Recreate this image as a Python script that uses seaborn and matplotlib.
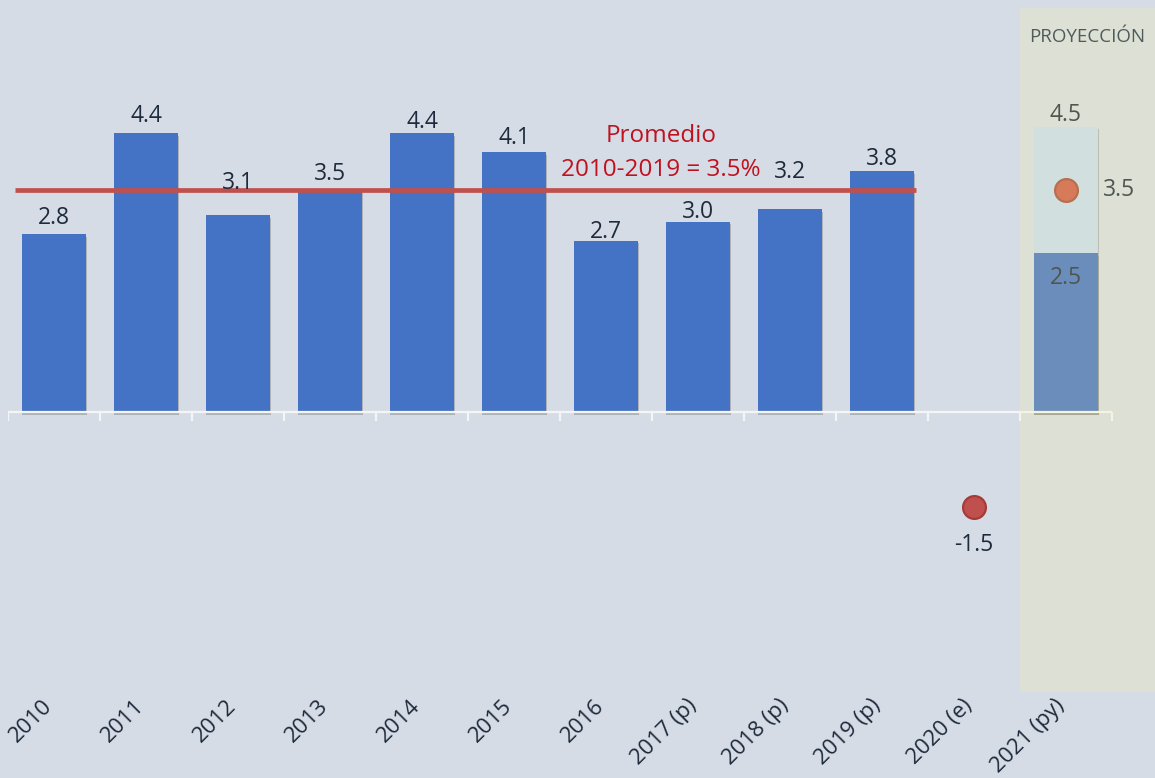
import numpy as np
import pandas as pd
import matplotlib
matplotlib.use("Agg")
import matplotlib.pyplot as plt
import matplotlib.patheffects as pe
from matplotlib.transforms import ScaledTranslation
import seaborn as sns

# data
categories = ['2010', '2011', '2012', '2013', '2014', '2015', '2016',
              '2017 (p)', '2018 (p)', '2019 (p)', '2020 (e)', '2021 (py)']
hist_years = categories[:10]
hist_growth = [2.8, 4.4, 3.1, 3.5, 4.4, 4.1, 2.7, 3.0, 3.2, 3.8]
avg_growth = 3.5
est_year = '2020 (e)'
est_growth = -1.5
proj_year = '2021 (py)'
proj_low = 2.5
proj_mid = 3.5
proj_high = 4.5

# label lift above each bar, pixels (3.1 and 3.2 sit above the average line)
label_lift_px = [10, 11, 26, 10, 5, 8, 3, 4, 31, 6]

bg = '#D6DCE5'
blue = '#4472C4'
navy = '#1E2B3C'
red_line = '#C0504D'

sns.set_theme(style='white', rc={'axes.facecolor': bg, 'figure.facecolor': bg})
plt.rcParams['font.family'] = ['Open Sans', 'DejaVu Sans']

fig = plt.figure(figsize=(11.55, 7.78), dpi=100)
ax = fig.add_axes([8 / 1155, 86 / 778, 1147 / 1155, 684 / 778])

df = pd.DataFrame({'year': hist_years, 'growth': hist_growth})
shadow = [pe.SimplePatchShadow(offset=(0.4, -2), shadow_rgbFace='#505050', alpha=0.3), pe.Normal()]

sns.barplot(data=df, x='year', y='growth', order=categories, color=blue,
            width=0.7, saturation=1, ax=ax, zorder=2)
sns.barplot(x=[proj_year], y=[proj_high], order=categories, color='#C8DBF3',
            width=0.7, saturation=1, ax=ax, zorder=2)
sns.barplot(x=[proj_year], y=[proj_low], order=categories, color=blue,
            width=0.7, saturation=1, ax=ax, zorder=2)
for p in ax.patches:
    p.set_linewidth(0)
    p.set_path_effects(shadow)

ax.set_xlim(-0.5, 11.5 + 43 / 92)
ax.set_ylim(-4.42, 6.37)

# zero axis with ticks between categories
n = len(categories)
ax.hlines(0, -0.5, n - 0.5, color='#F4F5F7', lw=1.6, zorder=3)
ax.vlines(np.arange(n + 1) - 0.5, -0.142, 0, color='#F4F5F7', lw=1.6, zorder=3)

# average line
ax.hlines(avg_growth, -0.42, 9.37, color=red_line, lw=3.4, zorder=4)
ax.annotate('Promedio', (6.6, avg_growth), xytext=(0, 48), textcoords='offset pixels',
            ha='center', va='baseline', color='#C0111F', fontsize=17.5)
ax.annotate('2010-2019 = %.1f%%' % avg_growth, (6.6, avg_growth), xytext=(0, 14),
            textcoords='offset pixels', ha='center', va='baseline', color='#C0111F', fontsize=17.5)

# bar labels
for i, (v, lift) in enumerate(zip(hist_growth, label_lift_px)):
    ax.annotate('%.1f' % v, (i, v), xytext=(0, lift), textcoords='offset pixels',
                ha='center', va='baseline', color=navy, fontsize=16.5, zorder=5)

# estimate and projection points
ie = categories.index(est_year)
ip = categories.index(proj_year)
ax.scatter([ie], [est_growth], s=270, color=red_line, edgecolor='#A33C39', lw=1.6, zorder=5)
ax.scatter([ip], [proj_mid], s=270, color='#CC5A48', edgecolor='#A84A3A', lw=1.6, zorder=5)
ax.annotate('%.1f' % est_growth, (ie, est_growth), xytext=(0, -44), textcoords='offset pixels',
            ha='center', va='baseline', color=navy, fontsize=16.5)
ax.annotate('%.1f' % proj_mid, (ip, proj_mid), xytext=(53, 0), textcoords='offset pixels',
            ha='center', va='center', color=navy, fontsize=16.5)
ax.annotate('%.1f' % proj_high, (ip, proj_high), xytext=(0, 6), textcoords='offset pixels',
            ha='center', va='baseline', color=navy, fontsize=16.5)
ax.annotate('%.1f' % proj_low, (ip, proj_low), xytext=(0, -31), textcoords='offset pixels',
            ha='center', va='baseline', color=navy, fontsize=16.5)

# projection shading (translucent overlay)
x_right = ax.get_xlim()[1]
ax.axvspan(ip - 0.5, x_right, color='#FAF09B', alpha=0.22, lw=0, zorder=6)
ax.text((ip - 0.5 + x_right) / 2, 0.95, 'PROYECCIÓN', transform=ax.get_xaxis_transform(),
        ha='center', va='baseline', color='#4F5B5B', fontsize=13.5, zorder=7)

ax.set_xticks(range(n))
ax.set_xticklabels(categories, rotation=45, ha='right', rotation_mode='anchor',
                   fontsize=16, color=navy)
ax.tick_params(axis='x', length=0, pad=2.5)
shift = ScaledTranslation(-12 / 100, 0, fig.dpi_scale_trans)
for lbl in ax.get_xticklabels():
    lbl.set_transform(lbl.get_transform() + shift)
ax.set_yticks([])
ax.set_xlabel('')
ax.set_ylabel('')
for s in ax.spines.values():
    s.set_visible(False)

fig.savefig('out.png', dpi=100, facecolor=bg)
